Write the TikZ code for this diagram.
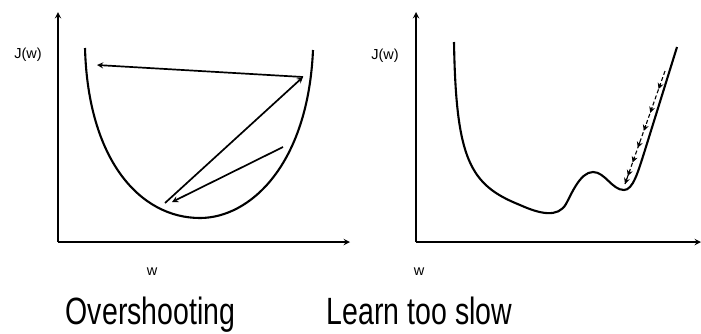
\documentclass[tikz,border=0pt]{standalone}
\usepackage{fontspec}
\setmainfont{Liberation Sans}
\newfontfamily\capfont[FakeStretch=0.75]{Liberation Sans}
\usetikzlibrary{calc,arrows.meta}

\begin{document}
\begin{tikzpicture}[x=1pt,y=-1pt,>=stealth,
  axis/.style={line width=1.8pt,->},
  cost/.style={line width=2.1pt},
  jump/.style={line width=1.7pt,->},
  crawl/.style={line width=1.1pt,-{Stealth[length=6pt,width=6pt]}},
  caption/.style={anchor=base,font=\capfont\fontsize{38}{38}\selectfont},
  axlabel/.style={font=\fontsize{14.5}{14.5}\selectfont}]
 \useasboundingbox (0,0) rectangle (701,333);
 \begin{scope}
  \coordinate (o1) at (58,242);
  \coordinate (ytop1) at (58,12);
  \coordinate (xend1) at (350,242);
  \draw[axis] (o1) -- (ytop1); \draw[axis] (o1) -- (xend1);
  \node[axlabel] (jw1) at (28,55) {J(w)};
  \node[axlabel] (w1) at (152,272) {w};
  \draw[cost] (85,48) .. controls (88,160) and (140,218) .. (200,218)
              .. controls (250,218) and (308,165) .. (313,50);
  \coordinate (s1) at (165,203); \coordinate (s2) at (303,77);
  \coordinate (s3) at (97,65); \coordinate (s4) at (283,147); \coordinate (s5) at (172,202);
  \draw[jump] (s2) -- (s3);
  \draw[jump] (s1) -- (s2);
  \draw[jump] (s4) -- (s5);
  \node[caption] (over) at (150.5,324) {Overshooting};
 \end{scope}
 \begin{scope}
  \coordinate (o2) at (416,242);
  \coordinate (ytop2) at (416,12);
  \coordinate (xend2) at (701,242);
  \draw[axis] (o2) -- (ytop2); \draw[axis] (o2) -- (xend2);
  \node[axlabel] (jw2) at (385,56) {J(w)};
  \node[axlabel] (w2) at (419,272) {w};
  \draw[cost] (454,42) .. controls (456,160) and (470,185) .. (520,205)
              .. controls (540,214) and (558,218) .. (566,204)
              .. controls (571,195) and (580,172) .. (593,172)
              .. controls (605,172) and (612,190) .. (624,190)
              .. controls (633,190) and (638,172) .. (645,150) -- (677,47);
  \coordinate (d0) at (665,71); \coordinate (d1) at (625,184);
  \draw[line width=1.1pt,dash pattern=on 4pt off 2.5pt] (d0) -- (d1);
  \foreach \t in {0.16,0.37,0.53,0.68,0.81,0.93,1.0}{
   \draw[crawl] ($(d0)!\t-0.05!(d1)$) -- ($(d0)!\t!(d1)$); }
  \node[caption] (slow) at (419.5,324) {Learn too slow};
 \end{scope}
\end{tikzpicture}
\end{document}
